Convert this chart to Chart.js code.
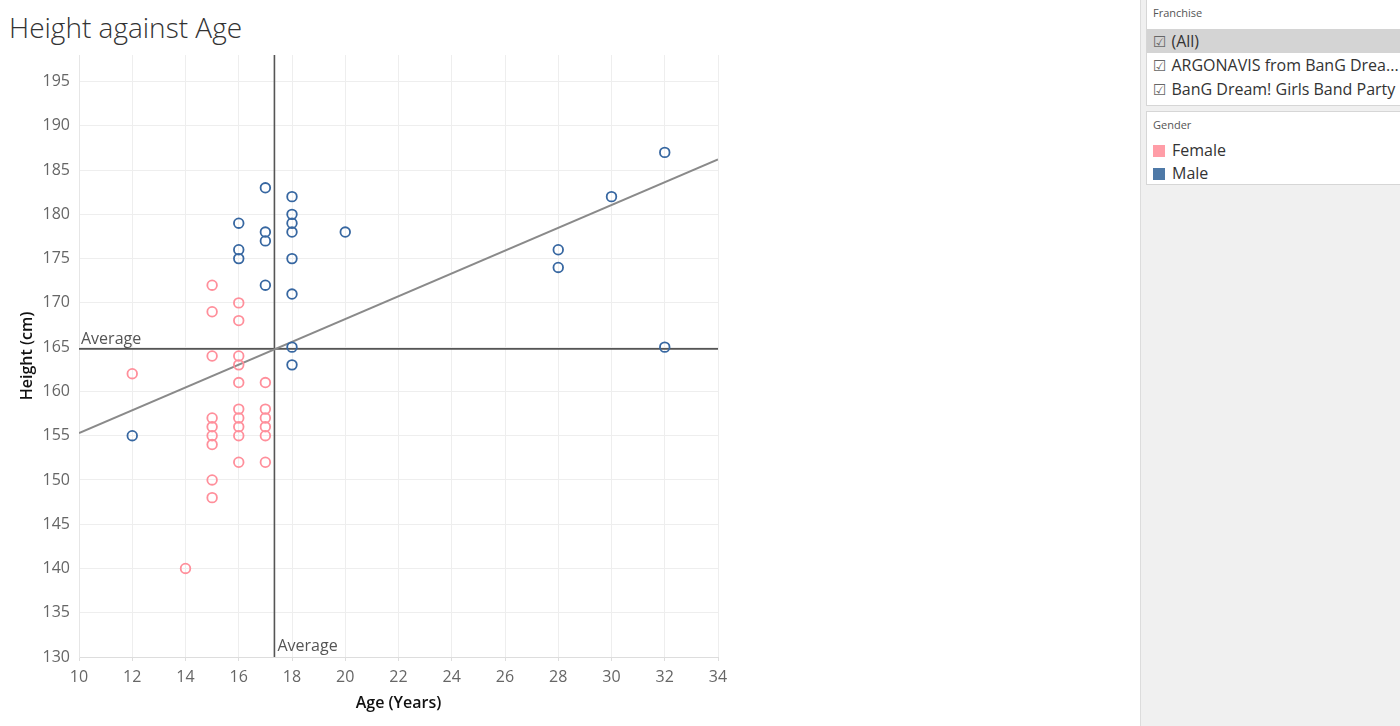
<!DOCTYPE html>
<html>
<head>
<meta charset="utf-8">
<script src="https://cdn.jsdelivr.net/npm/chart.js@4.4.1/dist/chart.umd.min.js"></script>
<style>
  body { margin: 0; width: 1400px; height: 726px; overflow: hidden; background: #fff; font-family: 'Open Sans', 'Noto Sans', sans-serif; }
  #title { position: absolute; left: 9px; top: 8px; font-size: 28px; font-weight: 300; color: #333; }
  #chartWrap { position: absolute; left: 0; top: 0; width: 1140px; height: 726px; }
  #side { position: absolute; left: 1140px; top: 0; width: 259px; height: 726px; background: #f0f0f0; border-left: 1px solid #dcdcdc; }
  .box { position: absolute; left: 5px; width: 260px; background: #fff; border: 1px solid #d6d6d6; border-right: none; }
  .hdr { position: absolute; left: 6px; top: 5px; font-size: 11px; color: #555; }
  .item { position: absolute; left: 0; width: 254px; height: 24px; line-height: 24px; font-size: 16px; color: #333; white-space: nowrap; padding-left: 6px; }
  .item.sel { background: #d4d4d4; }
  .cb { font-family: 'DejaVu Sans', sans-serif; font-size: 15px; color: #666; margin-right: 5px; }
  .sw { display: inline-block; width: 12px; height: 12px; margin-right: 7px; vertical-align: -1px; }
</style>
</head>
<body>
<div id="title">Height against Age</div>
<div id="chartWrap"><canvas id="scatterChart" width="1140" height="726"></canvas></div>
<div id="side">
  <div class="box" style="top:-1px;height:105px;">
    <div class="hdr">Franchise</div>
    <div class="item sel" style="top:29px;"><span class="cb">☑</span>(All)</div>
    <div class="item" style="top:53px;"><span class="cb">☑</span>ARGONAVIS from BanG Drea...</div>
    <div class="item" style="top:77px;"><span class="cb">☑</span>BanG Dream! Girls Band Party</div>
  </div>
  <div class="box" style="top:111px;height:72px;">
    <div class="hdr">Gender</div>
    <div class="item" style="top:26px;"><span class="sw" style="background:#ff9da7"></span>Female</div>
    <div class="item" style="top:49px;"><span class="sw" style="background:#4e79a7"></span>Male</div>
  </div>
</div>
<script>
const xTicks = [10, 12, 14, 16, 18, 20, 22, 24, 26, 28, 30, 32, 34];
const yTicks = [130, 135, 140, 145, 150, 155, 160, 165, 170, 175, 180, 185, 190, 195];

const femaleAge = [12, 14, 15, 15, 15, 15, 15, 15, 15, 15, 15,
  16, 16, 16, 16, 16, 16, 16, 16, 16, 16, 17, 17, 17, 17, 17, 17];
const femaleHeight = [162, 140, 172, 169, 164, 157, 156, 155, 154, 150, 148,
  170, 168, 164, 163, 161, 158, 157, 156, 155, 152, 161, 158, 157, 156, 155, 152];

const maleAge = [12, 16, 16, 16, 17, 17, 17, 17, 18, 18, 18, 18, 18, 18, 18, 18, 20, 28, 28, 30, 32, 32];
const maleHeight = [155, 179, 176, 175, 183, 178, 177, 172, 182, 180, 179, 178, 175, 171, 165, 163, 178, 176, 174, 182, 187, 165];

const avgAge = 17.34;
const avgHeight = 164.8;
const trendAge = [10, 34];
const trendHeight = [155.3, 186.2];

const femaleColor = '#ff8f9b';
const maleColor = '#3767a1';

function toPoints(xs, ys) {
  return xs.map((x, i) => ({ x: x, y: ys[i] }));
}

// "Average" captions next to the reference lines
const avgLabels = {
  id: 'avgLabels',
  afterDatasetsDraw(chart) {
    const { ctx, chartArea, scales } = chart;
    const yPix = scales.y.getPixelForValue(avgHeight);
    const xPix = scales.x.getPixelForValue(avgAge);
    ctx.save();
    ctx.font = '16px "Open Sans", sans-serif';
    ctx.fillStyle = '#555';
    ctx.textAlign = 'left';
    ctx.textBaseline = 'alphabetic';
    ctx.fillText('Average', chartArea.left + 2, yPix - 5);
    ctx.textBaseline = 'middle';
    ctx.fillText('Average', xPix + 3, chartArea.bottom - 11);
    ctx.restore();
  }
};

const tickFont = { family: "'Open Sans', sans-serif", size: 16 };
const titleFont = { family: "'Open Sans', sans-serif", size: 16, weight: '600' };

new Chart(document.getElementById('scatterChart').getContext('2d'), {
  type: 'scatter',
  data: {
    datasets: [
      {
        label: 'Female',
        data: toPoints(femaleAge, femaleHeight),
        pointRadius: 4.8,
        pointBorderWidth: 1.8,
        pointBackgroundColor: 'rgba(255,255,255,0)',
        pointBorderColor: femaleColor,
        order: 1
      },
      {
        label: 'Male',
        data: toPoints(maleAge, maleHeight),
        pointRadius: 4.8,
        pointBorderWidth: 1.8,
        pointBackgroundColor: 'rgba(255,255,255,0)',
        pointBorderColor: maleColor,
        order: 0
      },
      {
        label: 'Trend',
        data: toPoints(trendAge, trendHeight),
        showLine: true,
        pointRadius: 0,
        borderColor: '#8a8a8a',
        borderWidth: 2,
        order: 2
      },
      {
        label: 'Average Height',
        data: toPoints([10, 34], [avgHeight, avgHeight]),
        showLine: true,
        pointRadius: 0,
        borderColor: '#555',
        borderWidth: 1.6,
        order: 3
      },
      {
        label: 'Average Age',
        data: toPoints([avgAge, avgAge], [130, 198]),
        showLine: true,
        pointRadius: 0,
        borderColor: '#555',
        borderWidth: 1.6,
        order: 3
      }
    ]
  },
  options: {
    responsive: false,
    animation: false,
    layout: { padding: { left: 0, top: 55, right: 422, bottom: 0 } },
    plugins: {
      legend: { display: false },
      tooltip: { enabled: false }
    },
    scales: {
      x: {
        type: 'linear',
        min: 10,
        max: 34,
        afterBuildTicks: scale => { scale.ticks = xTicks.map(v => ({ value: v })); },
        afterFit: scale => { scale.height = 69; },
        grid: { color: '#eeeeee', tickLength: 4, tickColor: '#dddddd' },
        border: { color: '#dddddd' },
        ticks: { color: '#666', font: tickFont, padding: 7 },
        title: { display: true, text: 'Age (Years)', color: '#111', font: titleFont, padding: { top: 0, bottom: 13 } }
      },
      y: {
        type: 'linear',
        min: 130,
        max: 198,
        afterBuildTicks: scale => { scale.ticks = yTicks.map(v => ({ value: v })); },
        afterFit: scale => { scale.width = 79; },
        grid: { color: '#eeeeee', tickLength: 4, tickColor: 'rgba(0,0,0,0)' },
        border: { color: '#e6e6e6' },
        ticks: { color: '#666', font: tickFont, padding: 5 },
        title: { display: true, text: 'Height (cm)', color: '#111', font: titleFont, padding: { top: 18, bottom: 0 } }
      }
    }
  },
  plugins: [avgLabels]
});
</script>
</body>
</html>
